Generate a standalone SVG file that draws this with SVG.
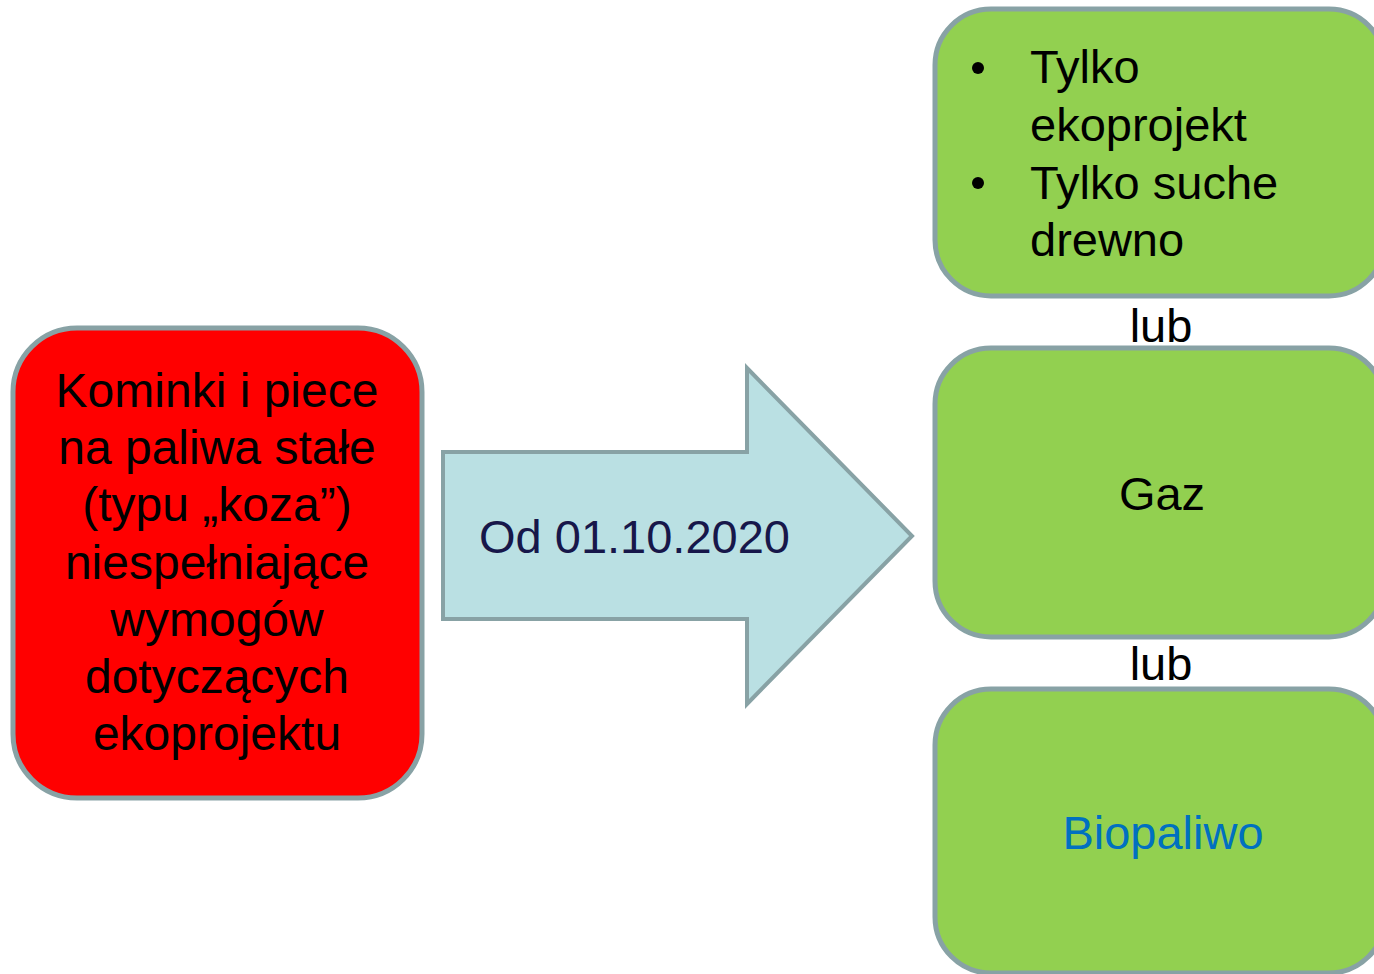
<svg xmlns="http://www.w3.org/2000/svg" width="1374" height="974" viewBox="0 0 1374 974">
<style>
.box{stroke:#88A2A5;stroke-width:5}
.red{fill:#FF0000}
.green{fill:#92D050}
.t{font-family:"Liberation Sans",Arial,sans-serif;font-size:47px;fill:#000}
.c{text-anchor:middle}
</style>
<rect width="1374" height="974" fill="#FFFFFF"/>
<g id="source">
<rect class="box red" x="13" y="328" width="409" height="470" rx="64"/>
<text class="t c" style="font-size:48px"><tspan x="217" y="407">Kominki i piece</tspan><tspan x="217" y="464">na paliwa stałe</tspan><tspan x="217" y="521">(typu „koza”)</tspan><tspan x="217" y="579">niespełniające</tspan><tspan x="217" y="636">wymogów</tspan><tspan x="217" y="693">dotyczących</tspan><tspan x="217" y="750">ekoprojektu</tspan></text>
</g>
<g id="connectors">
<g id="arrow">
<polygon points="443,452 747,452 747,368 912,536 747,704 747,619 443,619" fill="#BAE0E3" stroke="#88A2A5" stroke-width="4"/>
<text class="t" x="479" y="553" style="fill:#17174A">Od 01.10.2020</text>
</g>
</g>
<g id="option1">
<rect class="box green" x="935" y="9" width="450" height="287" rx="56"/>
<circle cx="978" cy="68" r="6" fill="#000"/>
<circle cx="978" cy="183" r="6" fill="#000"/>
<text class="t"><tspan x="1030" y="83">Tylko</tspan><tspan x="1030" y="141">ekoprojekt</tspan><tspan x="1030" y="199">Tylko suche</tspan><tspan x="1030" y="256">drewno</tspan></text>
</g>
<g id="lub1"><text class="t c" x="1161" y="342">lub</text></g>
<g id="option2">
<rect class="box green" x="935" y="348" width="450" height="289" rx="56"/>
<text class="t c" x="1162" y="510">Gaz</text>
</g>
<g id="lub2"><text class="t c" x="1161" y="680">lub</text></g>
<g id="option3">
<rect class="box green" x="935" y="689" width="450" height="284" rx="56"/>
<text class="t c" x="1163" y="849" style="fill:#0070C0">Biopaliwo</text>
</g>
</svg>
